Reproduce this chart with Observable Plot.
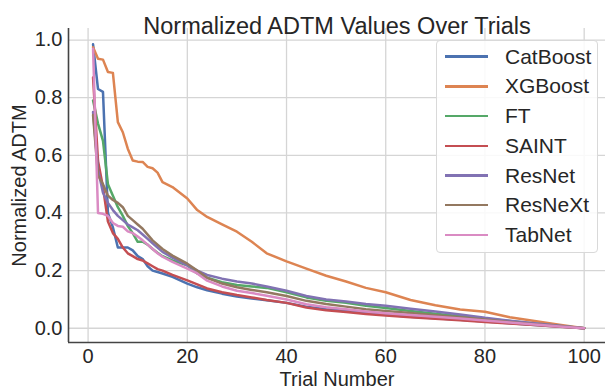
<!DOCTYPE html>
<html>
<head>
<meta charset="utf-8">
<script src="https://cdn.jsdelivr.net/npm/d3@7"></script>
<script src="https://cdn.jsdelivr.net/npm/@observablehq/plot@0.6"></script>
<style>
  body { margin: 0; background: white; }
  #wrap { position: relative; width: 605px; height: 389px; overflow: hidden; font-family: "Liberation Sans", Arial, sans-serif; color: #262626; }
  #legend { position: absolute; left: 436px; top: 40px; width: 160px; height: 211px; border: 1px solid #d9d9d9; border-radius: 4px; background: rgba(255,255,255,0.85); }
  .item { position: absolute; left: 0; height: 24px; display: flex; align-items: center; }
  .item span.sw { display: inline-block; width: 43px; height: 2.5px; margin-left: 8px; margin-right: 17px; }
  .item span.lb { font-size: 21px; line-height: 24px; }
</style>
</head>
<body>
<div id="wrap"><div id="chart"></div><div id="legend"></div></div>
<script>
const title = "Normalized ADTM Values Over Trials";
const xLabel = "Trial Number";
const yLabel = "Normalized ADTM";
const xTicks = [0, 20, 40, 60, 80, 100];
const yTicks = [0, 0.2, 0.4, 0.6, 0.8, 1.0];
const xDomain = [-3.95, 104.3];
const yDomain = [-0.0495, 1.04];

const models = ["CatBoost", "XGBoost", "FT", "SAINT", "ResNet", "ResNeXt", "TabNet"];
const colors = ["#4C72B0", "#DD8452", "#55A868", "#C44E52", "#8172B3", "#937860", "#DA8BC3"];

const trials = [1,2,3,4,5,6,7,8,9,10,11,12,13,14,15,17,20,22,24,27,30,33,36,40,44,48,52,56,60,65,70,75,80,85,90,95,100];

const catboost = [.985,.83,.82,.40,.35,.28,.28,.28,.27,.25,.24,.215,.20,.195,.19,.178,.155,.142,.132,.12,.11,.103,.097,.088,.075,.066,.06,.053,.047,.04,.035,.029,.023,.017,.011,.006,0];
const xgboost = [.975,.935,.932,.889,.886,.715,.68,.623,.582,.578,.577,.56,.555,.54,.507,.49,.45,.41,.386,.36,.335,.30,.26,.232,.207,.182,.162,.14,.125,.098,.08,.065,.057,.038,.025,.012,0];
const ft = [.79,.71,.65,.50,.46,.42,.39,.355,.33,.30,.30,.29,.275,.262,.25,.235,.218,.19,.175,.16,.15,.145,.14,.125,.107,.095,.088,.078,.07,.06,.05,.042,.033,.025,.016,.008,0];
const saint = [.87,.58,.49,.37,.33,.31,.28,.26,.25,.24,.235,.225,.215,.205,.20,.185,.166,.152,.138,.125,.115,.107,.098,.088,.072,.062,.056,.049,.044,.038,.033,.028,.022,.016,.011,.005,0];
const resnet = [.75,.55,.47,.435,.41,.39,.375,.36,.35,.34,.325,.31,.295,.28,.265,.245,.218,.20,.185,.172,.162,.155,.145,.13,.112,.10,.093,.084,.078,.068,.058,.048,.036,.026,.017,.009,0];
const resnext = [.74,.53,.50,.46,.445,.435,.42,.39,.375,.36,.345,.325,.305,.29,.275,.252,.224,.20,.175,.155,.142,.133,.125,.112,.095,.084,.075,.066,.06,.053,.045,.038,.03,.022,.014,.007,0];
const tabnet = [.97,.40,.397,.39,.365,.355,.352,.336,.33,.318,.305,.29,.275,.26,.248,.23,.207,.19,.165,.145,.13,.122,.113,.10,.083,.073,.066,.058,.052,.046,.04,.034,.027,.02,.013,.006,0];

const seriesValues = [catboost, xgboost, ft, saint, resnet, resnext, tabnet];
const rows = [];
models.forEach((m, i) => trials.forEach((t, j) => rows.push({model: m, trial: t, value: seriesValues[i][j]})));

const font = "'Liberation Sans', Arial, sans-serif";
const chart = Plot.plot({
  width: 605,
  height: 389,
  marginLeft: 68,
  marginRight: 0,
  marginTop: 28,
  marginBottom: 47,
  style: {fontFamily: font, color: "#262626", background: "white", overflow: "visible"},
  x: {domain: xDomain},
  y: {domain: yDomain},
  color: {domain: models, range: colors},
  marks: [
    Plot.gridX(xTicks, {stroke: "#d5d5d5", strokeOpacity: 1, strokeWidth: 1.3}),
    Plot.gridY(yTicks, {stroke: "#d5d5d5", strokeOpacity: 1, strokeWidth: 1.3}),
    Plot.axisX(xTicks, {tickSize: 0, tickPadding: 6, fontSize: 20, label: null, tickFormat: d => String(d)}),
    Plot.axisY(yTicks, {tickSize: 0, tickPadding: 6, fontSize: 20, label: null, tickFormat: d3.format(".1f")}),
    Plot.ruleX([xDomain[0]], {stroke: "#444", strokeWidth: 1.6}),
    Plot.ruleY([yDomain[0]], {stroke: "#444", strokeWidth: 1.6}),
    Plot.line(rows, {x: "trial", y: "value", z: "model", stroke: "model", strokeWidth: 2.5}),
    Plot.text([xLabel], {frameAnchor: "bottom", dy: 37, fontSize: 20, lineAnchor: "middle", textAnchor: "middle"}),
    Plot.text([yLabel], {frameAnchor: "left", dx: -49, rotate: -90, fontSize: 20, textAnchor: "middle", lineAnchor: "middle"}),
    Plot.text([title], {frameAnchor: "top", dy: -11, fontSize: 23.5})
  ]
});
document.getElementById("chart").appendChild(chart);

const legend = document.getElementById("legend");
models.forEach((m, i) => {
  const it = document.createElement("div");
  it.className = "item";
  it.style.top = (3.7 + i * 29.7) + "px";
  it.innerHTML = `<span class="sw" style="background:${colors[i]}"></span><span class="lb">${m}</span>`;
  legend.appendChild(it);
});
</script>
</body>
</html>
